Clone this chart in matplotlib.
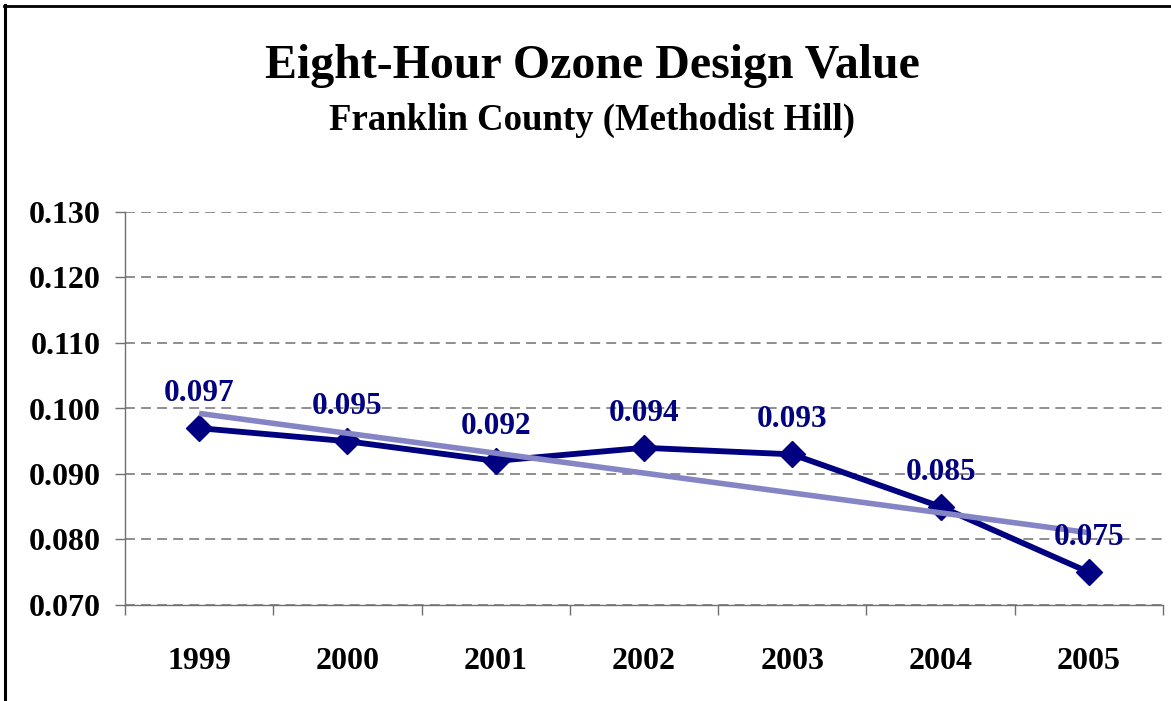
import matplotlib
matplotlib.use("Agg")
import matplotlib.pyplot as plt
from matplotlib.lines import Line2D
from matplotlib.ticker import FixedLocator, FormatStrFormatter
import numpy as np

years = ["1999", "2000", "2001", "2002", "2003", "2004", "2005"]
design_values = [0.097, 0.095, 0.092, 0.094, 0.093, 0.085, 0.075]
value_labels = ["0.097", "0.095", "0.092", "0.094", "0.093", "0.085", "0.075"]
y_ticks = [0.070, 0.080, 0.090, 0.100, 0.110, 0.120, 0.130]

NAVY = "#000080"
TREND = "#8585C5"
FONT = "Liberation Serif"

fig = plt.figure(figsize=(11.71, 7.01), dpi=100)
W, H = 1171, 701
ax = fig.add_axes([125 / W, 1 - 605 / H, (1163 - 125) / W, (605 - 212) / H])

x = np.arange(len(years))
# linear trendline (Excel-style) computed from the data
coef = np.polyfit(x, design_values, 1)
trend = np.polyval(coef, x)

ax.plot(x, design_values, color=NAVY, lw=4.2, marker="D", markersize=13,
        markerfacecolor=NAVY, markeredgecolor=NAVY, zorder=3)
ax.plot(x, trend, color=TREND, lw=4.0, solid_capstyle="butt", zorder=4)

for xi, v, lab in zip(x, design_values, value_labels):
    ax.annotate(lab, (xi, v), xytext=(0, 19.5), textcoords="offset points",
                ha="center", va="baseline", fontsize=22.5, fontweight="bold",
                color=NAVY, family=FONT, zorder=5)

ax.set_xlim(-0.5, len(years) - 0.5)
ax.set_ylim(0.070, 0.130)
ax.yaxis.set_major_locator(FixedLocator(y_ticks))
ax.yaxis.set_major_formatter(FormatStrFormatter("%.3f"))
ax.set_xticks(x)
ax.set_xticklabels(years)
ax.set_xticks(np.arange(-0.5, len(years)), minor=True)

ax.tick_params(axis="x", which="major", length=0, pad=30)
ax.tick_params(axis="x", which="minor", length=7.5, width=1, color="#707070", direction="out")
ax.tick_params(axis="y", which="major", length=7.2, width=1, color="#707070", direction="out", pad=10.5)

for lab in ax.get_xticklabels() + ax.get_yticklabels():
    lab.set_fontsize(23)
    lab.set_fontweight("bold")
    lab.set_family(FONT)

ax.grid(axis="y", color="#707070", linestyle=(0, (6.5, 4)), linewidth=1.1)
ax.set_axisbelow(True)
for s in ["top", "right"]:
    ax.spines[s].set_visible(False)
ax.spines["left"].set_color("#707070")
ax.spines["bottom"].set_color("#707070")
ax.spines["left"].set_linewidth(1)
ax.spines["bottom"].set_linewidth(1)

fig.text(592 / W, 1 - 78 / H, "Eight-Hour Ozone Design Value", ha="center", va="baseline",
         fontsize=34.5, fontweight="bold", family=FONT)
fig.text(592 / W, 1 - 130 / H, "Franklin County (Methodist Hill)", ha="center", va="baseline",
         fontsize=26.5, fontweight="bold", family=FONT)

# outer frame (left and top edges visible)
fig.add_artist(Line2D([5 / W, 5 / W], [0, 1 - 5 / H], color="black", lw=2.2, transform=fig.transFigure))
fig.add_artist(Line2D([4 / W, 1], [1 - 5.5 / H, 1 - 5.5 / H], color="black", lw=2.0, transform=fig.transFigure))

fig.savefig("out.png", dpi=100, facecolor="white")
